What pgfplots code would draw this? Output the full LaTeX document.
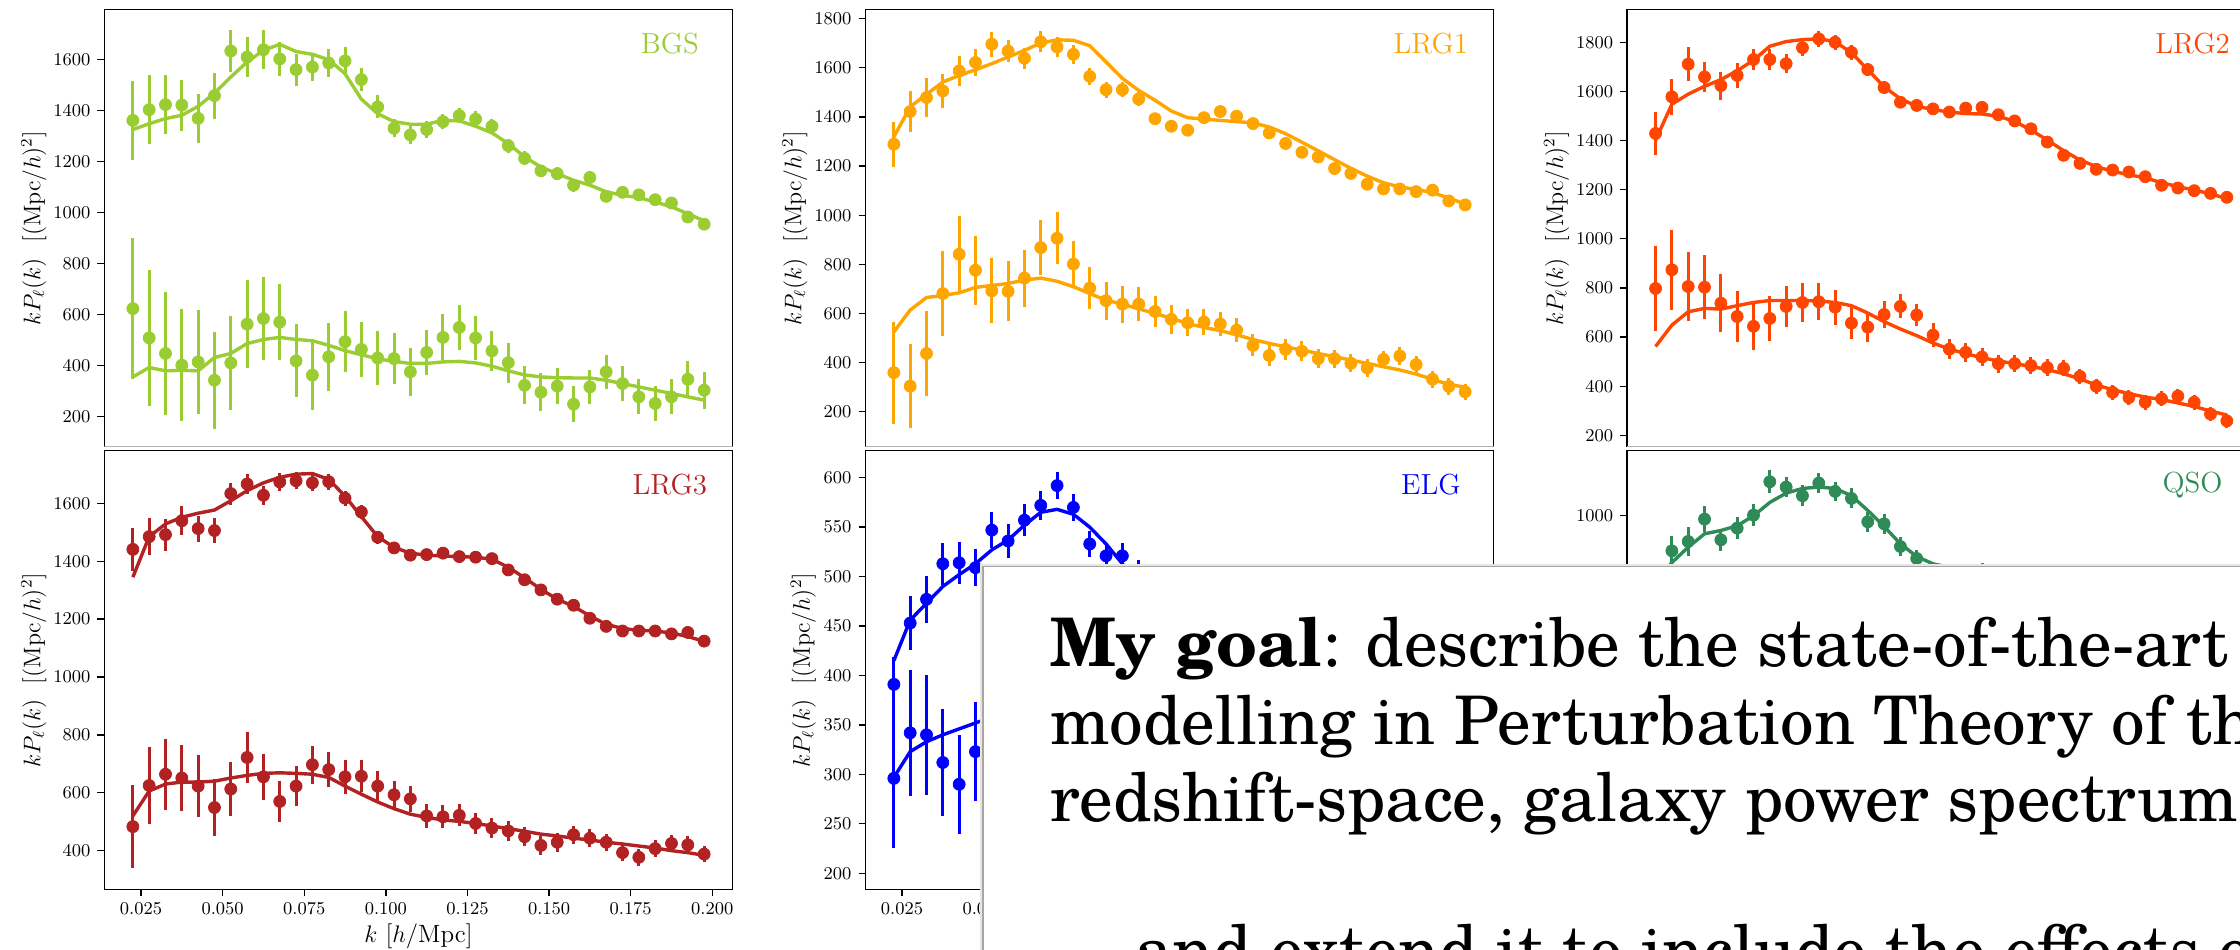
\documentclass[border=0pt]{standalone}
\usepackage{fontspec}
\usepackage{pgfplots}
\usepackage{pgfplotstable}
\pgfplotsset{compat=1.18}
\newfontfamily\boxfont{texgyreschola}[Extension=.otf,
  UprightFont=*-regular, BoldFont=*-bold,
  ItalicFont=*-italic, BoldItalicFont=*-bolditalic]

\definecolor{bgs}{HTML}{9ACD32}
\definecolor{lrgone}{HTML}{FFA500}
\definecolor{lrgtwo}{HTML}{FF4500}
\definecolor{lrgthree}{HTML}{B22222}
\definecolor{elg}{HTML}{0000FF}
\definecolor{qso}{HTML}{2E8B57}

% columns: k, monopole data, error, model, quadrupole data, error, model
\pgfplotstableread{
k      m0   e0  t0   m2  e2  t2
0.0225 1362 155 1326 624 275 356
0.0275 1404 135 1349 509 265 393
0.0325 1424 115 1369 448 240 380
0.0375 1422 100 1382 402 220 382
0.0425 1370 97  1417 415 205 380
0.0475 1459 90  1469 343 190 432
0.0525 1634 82  1532 411 185 448
0.0575 1610 78  1591 563 172 487
0.0625 1639 77  1637 585 163 503
0.0675 1603 67  1660 571 150 511
0.0725 1561 63  1632 419 143 503
0.0775 1571 55  1621 363 137 498
0.0825 1587 55  1600 435 133 480
0.0875 1595 55  1545 494 120 459
0.0925 1522 45  1445 464 107 443
0.0975 1415 45  1388 430 107 427
0.1025 1331 35  1357 428 100 417
0.1075 1305 35  1347 376 93  409
0.1125 1326 35  1347 452 90  409
0.1175 1357 30  1362 511 90  415
0.1225 1381 30  1360 550 90  417
0.1275 1367 30  1339 509 85  411
0.1325 1339 30  1313 458 80  398
0.1375 1263 27  1271 412 78  380
0.1425 1213 27  1219 323 75  364
0.1475 1164 25  1179 296 75  356
0.1525 1153 25  1153 320 72  353
0.1575 1108 25  1127 249 70  352
0.1625 1138 25  1108 317 68  352
0.1675 1064 22  1082 376 68  343
0.1725 1080 22  1068 330 70  330
0.1775 1070 22  1059 278 68  317
0.1825 1051 22  1042 252 68  304
0.1875 1038 22  1023 278 68  291
0.1925 983  22  996  347 70  278
0.1975 955  20  968  304 72  265
}\tabBGS

\pgfplotstableread{
k      m0   e0 t0   m2  e2  t2
0.0225 1289 92 1319 359 207 525
0.0275 1422 84 1441 304 172 614
0.0325 1479 80 1492 437 172 665
0.0375 1506 70 1542 681 173 673
0.0425 1587 62 1569 841 155 684
0.0475 1622 55 1592 776 140 706
0.0525 1696 50 1617 692 132 714
0.0575 1668 46 1644 690 122 722
0.0625 1639 43 1671 744 116 736
0.0675 1706 43 1701 868 112 744
0.0725 1685 40 1714 906 105 731
0.0775 1655 38 1712 801 95  709
0.0825 1565 35 1690 703 85  681
0.0875 1511 32 1624 652 78  654
0.0925 1511 30 1557 638 75  638
0.0975 1473 28 1508 638 68  619
0.1025 1393 25 1468 608 65  600
0.1075 1362 25 1424 576 60  580
0.1125 1346 24 1397 562 55  559
0.1175 1397 22 1391 565 53  543
0.1225 1422 22 1386 557 50  530
0.1275 1403 21 1381 532 48  513
0.1325 1373 20 1376 470 45  494
0.1375 1335 20 1359 429 43  478
0.1425 1292 19 1332 454 42  464
0.1475 1256 18 1297 446 40  451
0.1525 1237 18 1262 416 38  437
0.1575 1190 18 1226 416 37  424
0.1625 1170 17 1191 397 36  410
0.1675 1126 17 1159 378 35  397
0.1725 1107 17 1132 413 35  383
0.1775 1107 17 1115 427 35  370
0.1825 1096 17 1105 392 35  353
0.1875 1102 17 1092 332 34  332
0.1925 1058 16 1070 303 33  311
0.1975 1042 16 1045 281 32  300
}\tabLRGa

\pgfplotstableread{
k      m0   e0 t0   m2  e2  t2
0.0225 1429 87 1402 798 173 562
0.0275 1578 73 1548 874 162 649
0.0325 1711 68 1589 806 141 703
0.0375 1659 62 1621 803 130 717
0.0425 1624 57 1648 738 117 714
0.0475 1665 50 1684 684 103 728
0.0525 1730 43 1727 644 95  741
0.0575 1730 43 1784 676 92  749
0.0625 1713 40 1803 725 84  749
0.0675 1778 35 1811 741 79  749
0.0725 1814 33 1814 744 76  747
0.0775 1800 31 1803 722 71  741
0.0825 1759 30 1757 657 65  728
0.0875 1689 28 1689 641 62  698
0.0925 1616 25 1619 692 54  663
0.0975 1556 24 1570 725 49  633
0.1025 1543 22 1540 690 46  606
0.1075 1529 21 1526 608 49  576
0.1125 1516 20 1516 551 42  551
0.1175 1532 19 1510 538 40  533
0.1225 1535 19 1508 519 38  516
0.1275 1505 18 1499 492 37  503
0.1325 1480 17 1478 492 36  492
0.1375 1448 17 1443 484 34  481
0.1425 1394 16 1402 476 33  468
0.1475 1340 16 1359 473 33  451
0.1525 1307 15 1321 440 32  430
0.1575 1283 15 1294 400 31  405
0.1625 1280 14 1275 375 31  386
0.1675 1272 14 1261 354 30  370
0.1725 1253 14 1248 335 30  356
0.1775 1218 14 1229 349 30  346
0.1825 1207 14 1212 360 30  332
0.1875 1196 14 1199 335 30  318
0.1925 1185 13 1183 287 28  299
0.1975 1169 13 1164 259 28  283
}\tabLRGb

\pgfplotstableread{
k      m0   e0 t0   m2  e2  t2
0.0225 1441 75 1345 483 143 520
0.0275 1485 65 1485 625 134 606
0.0325 1492 55 1529 664 122 630
0.0375 1540 50 1552 651 113 637
0.0425 1513 45 1566 623 108 637
0.0475 1506 42 1577 549 97  640
0.0525 1634 38 1609 613 92  651
0.0575 1667 35 1644 722 87  660
0.0625 1628 32 1671 655 80  667
0.0675 1674 30 1690 570 72  669
0.0725 1678 30 1701 623 70  667
0.0775 1671 28 1703 697 66  664
0.0825 1675 28 1683 680 60  653
0.0875 1618 26 1625 655 58  623
0.0925 1570 25 1554 657 55  595
0.0975 1483 22 1485 623 52  568
0.1025 1446 20 1448 593 48  545
0.1075 1421 18 1428 579 45  526
0.1125 1423 18 1421 520 42  515
0.1175 1428 17 1418 517 40  506
0.1225 1416 17 1416 522 38  501
0.1275 1414 16 1414 494 36  494
0.1325 1409 16 1407 478 35  485
0.1375 1370 15 1379 468 34  476
0.1425 1336 15 1343 448 33  467
0.1475 1301 15 1303 418 32  457
0.1525 1269 14 1269 429 32  451
0.1575 1248 14 1244 455 31  443
0.1625 1203 14 1211 443 31  437
0.1675 1175 13 1182 429 30  429
0.1725 1159 13 1168 393 30  423
0.1775 1159 13 1161 377 30  416
0.1825 1159 13 1159 407 30  409
0.1875 1149 13 1152 425 30  400
0.1925 1154 13 1140 420 30  393
0.1975 1124 13 1123 388 28  384
}\tabLRGc

\pgfplotstableread{
k      m0  e0 t0  m2  e2  t2
0.0225 391 28 415 296 70  297
0.0275 453 27 456 342 64  323
0.0325 477 24 473 340 61  333
0.0375 513 21 490 312 54  340
0.0425 514 21 502 290 50  346
0.0475 509 19 513 323 50  352
0.0525 547 18 527 nan nan 358
0.0575 536 17 537 nan nan 364
0.0625 557 16 552 nan nan nan
0.0675 572 15 565 nan nan nan
0.0725 592 14 568 nan nan nan
0.0775 570 14 563 nan nan nan
0.0825 533 13 550 nan nan nan
0.0875 521 13 533 nan nan nan
0.0925 521 13 513 nan nan nan
0.0975 503 14 490 nan nan nan
0.1025 495 13 470 nan nan nan
}\tabELG

\pgfplotstableread{
k      m0   e0 t0
0.0225 760  70 800
0.0275 895  43 860
0.0325 923  43 906
0.0375 990  40 946
0.0425 928  32 956
0.0475 963  33 970
0.0525 1002 34 1000
0.0575 1102 34 1040
0.0625 1086 30 1068
0.0675 1060 32 1082
0.0725 1098 30 1086
0.0775 1073 29 1082
0.0825 1052 30 1060
0.0875 982  30 1016
0.0925 976  30 968
0.0975 908  28 916
0.1025 872  26 878
0.1075 830  25 856
0.1125 810  25 846
0.1175 808  25 840
0.1225 835  25 835
}\tabQSO

\tikzset{tag/.style={color=#1, font=\fontsize{14.5}{16}\selectfont, anchor=center}}

\pgfplotsset{
  panel/.style={
    scale only axis, width=314.2pt,
    xmin=0.01375, xmax=0.20625,
    axis line style={line width=0.65pt},
    tick align=outside, tick pos=left,
    major tick length=3.4pt,
    every tick/.style={black, line width=0.65pt},
    scaled ticks=false,
    yticklabel style={font=\fontsize{9.3}{10}\selectfont,
      /pgf/number format/set thousands separator={}},
    xticklabel style={font=\fontsize{9.3}{10}\selectfont,
      /pgf/number format/fixed, /pgf/number format/fixed zerofill,
      /pgf/number format/precision=3},
    ylabel={$kP_\ell(k)\ \ [(\mathrm{Mpc}/h)^2]$},
    every axis y label/.style={at={(axis description cs:-0.112,0.5)},
      rotate=90, anchor=center, font=\fontsize{12}{14}\selectfont},
    every axis x label/.style={at={(axis description cs:0.5,0)},
      yshift=-23.7pt, anchor=center, font=\fontsize{12.5}{14}\selectfont},
  },
  toprow/.style={panel, height=218.5pt, xtick=\empty},
  botrow/.style={panel, height=219.3pt,
    xtick={0.025,0.05,0.075,0.1,0.125,0.15,0.175,0.2},
    xlabel={$k$ [$h$/Mpc]}},
  dat/.style={only marks, mark=*, mark size=3pt, color=#1,
    error bars/y dir=both, error bars/y explicit,
    error bars/error mark=none,
    error bars/error bar style={line width=1.5pt, color=#1}},
  thy/.style={color=#1, line width=1.7pt, no marks},
}

\newcommand{\bothpoles}[2]{%
  \addplot[thy=#2] table[x=k, y=t0] {#1};
  \addplot[dat=#2] table[x=k, y=m0, y error=e0] {#1};
  \addplot[thy=#2] table[x=k, y=t2] {#1};
  \addplot[dat=#2] table[x=k, y=m2, y error=e2] {#1};
}

\begin{document}
\begin{tikzpicture}
\path[use as bounding box] (0,0) rectangle (1120pt,474.5pt);
\clip (0,0) rectangle (1120pt,474.5pt);

% ---------------- top row ----------------
\begin{axis}[toprow, at={(52.15pt,251.15pt)}, anchor=south west,
  ymin=82.5, ymax=1796, ytick={200,400,...,1600}]
  \bothpoles{\tabBGS}{bgs}
  \draw[black!30, line width=0.8pt] (rel axis cs:0,0) -- (rel axis cs:1,0);
  \node[tag=bgs] at (rel axis cs:0.9,0.922) {BGS};
\end{axis}

\begin{axis}[toprow, at={(432.65pt,251.15pt)}, anchor=south west,
  ymin=57.6, ymax=1836.6, ytick={200,400,...,1800}]
  \bothpoles{\tabLRGa}{lrgone}
  \draw[black!30, line width=0.8pt] (rel axis cs:0,0) -- (rel axis cs:1,0);
  \node[tag=lrgone] at (rel axis cs:0.9,0.922) {LRG1};
\end{axis}

\begin{axis}[toprow, at={(813.5pt,251.15pt)}, anchor=south west,
  ymin=154, ymax=1932.7, ytick={200,400,...,1800}]
  \bothpoles{\tabLRGb}{lrgtwo}
  \draw[black!30, line width=0.8pt] (rel axis cs:0,0) -- (rel axis cs:1,0);
  \node[tag=lrgtwo] at (rel axis cs:0.9,0.922) {LRG2};
\end{axis}

% ---------------- bottom row ----------------
\begin{axis}[botrow, at={(52.15pt,29.85pt)}, anchor=south west,
  ymin=266.4, ymax=1782, ytick={400,600,...,1600}]
  \bothpoles{\tabLRGc}{lrgthree}
  \node[tag=lrgthree] at (rel axis cs:0.9,0.922) {LRG3};
\end{axis}

\begin{axis}[botrow, at={(432.65pt,29.85pt)}, anchor=south west,
  ymin=183.8, ymax=627.3, ytick={200,250,...,600},
  every axis y label/.append style={at={(axis description cs:-0.0987,0.5)}}]
  \bothpoles{\tabELG}{elg}
  \node[tag=elg] at (rel axis cs:0.9,0.922) {ELG};
\end{axis}

\begin{axis}[botrow, at={(813.5pt,29.85pt)}, anchor=south west,
  ymin=-119, ymax=1195, ytick={0,200,...,1000}]
  \addplot[thy=qso] table[x=k, y=t0] {\tabQSO};
  \addplot[dat=qso] table[x=k, y=m0, y error=e0] {\tabQSO};
  \node[tag=qso] at (rel axis cs:0.9,0.922) {QSO};
\end{axis}

% ---------------- text panel ----------------
\fill[black!10] (489.9pt,-10pt) rectangle (1130pt,192.7pt);
\fill[white] (491.35pt,-10pt) rectangle (1130pt,191.25pt);
\draw[black!35, line width=0.9pt] (491.35pt,-10pt) -- (491.35pt,191.25pt) -- (1130pt,191.25pt);

\begin{scope}[every node/.style={anchor=base west, inner sep=0pt,
    font=\boxfont\fontsize{33.5}{40}\selectfont}]
  \node at (524.8pt,141pt) {\textbf{My goal}: describe the state-of-the-art};
  \node at (524.8pt,102.5pt) {modelling in Perturbation Theory of the};
  \node at (524.8pt,63.5pt) {redshift-space, galaxy power spectrum};
  \node at (524.8pt,-12pt) {\ldots{} and extend it to include the effects of};
\end{scope}
\end{tikzpicture}
\end{document}
